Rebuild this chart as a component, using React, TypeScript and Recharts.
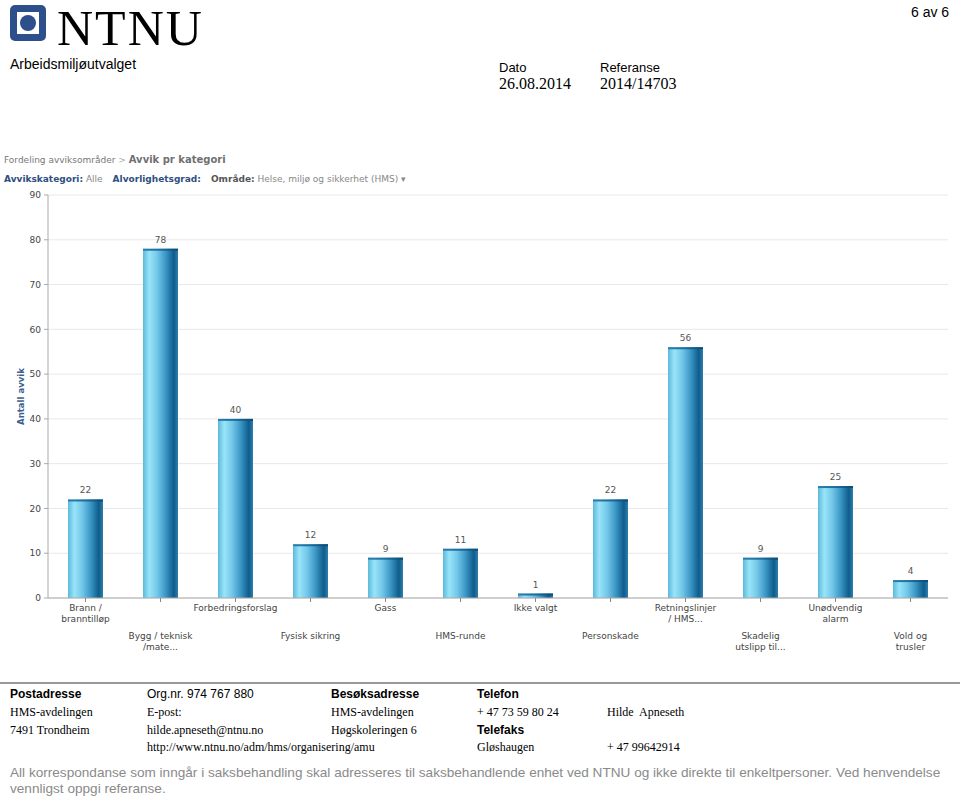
import React from "react";
import { BarChart, Bar, XAxis, YAxis, CartesianGrid, LabelList } from "recharts";

const categories = [
  "Brann /\nbranntilløp",
  "Bygg / teknisk\n/mate...",
  "Forbedringsforslag",
  "Fysisk sikring",
  "Gass",
  "HMS-runde",
  "Ikke valgt",
  "Personskade",
  "Retningslinjer\n/ HMS...",
  "Skadelig\nutslipp til...",
  "Unødvendig\nalarm",
  "Vold og\ntrusler",
];
const counts = [22, 78, 40, 12, 9, 11, 1, 22, 56, 9, 25, 4];
const yTicks = [0, 10, 20, 30, 40, 50, 60, 70, 80, 90];

const data = categories.map((c, i) => ({ name: c, value: counts[i] }));

const chartFont = "'DejaVu Sans', Verdana, sans-serif";
const condFont = "'DejaVu Sans Condensed', 'DejaVu Sans', Verdana, sans-serif";

const XTick = (props: any) => {
  const { x, y, payload, index } = props;
  const lines = String(payload.value).split("\n");
  const base = index % 2 === 0 ? 11 : 39;
  return (
    <g>
      {lines.map((l: string, i: number) => (
        <text
          key={i}
          x={x}
          y={y - 4 + base + i * 11}
          textAnchor="middle"
          fontSize={9}
          fill="#444"
          fontFamily={chartFont}
        >
          {l}
        </text>
      ))}
    </g>
  );
};

const BarShape = (props: any) => {
  const { x, y, width, height } = props;
  if (height <= 0) return null;
  return (
    <g>
      <rect x={x} y={y} width={width} height={height} fill="url(#barGrad)" />
      <rect x={x} y={y} width={width} height={Math.min(2, height)} fill="url(#capGrad)" />
    </g>
  );
};

const Logo = () => (
  <svg width={36} height={36} style={{ position: "absolute", left: 10, top: 5 }}>
    <rect x={0} y={0} width={36} height={36} rx={5} fill="#2d4f8c" />
    <rect x={7} y={7} width={22} height={22} fill="#ffffff" />
    <circle cx={18} cy={18} r={8} fill="#2d4f8c" />
  </svg>
);

const abs = (left: number, top: number, extra: React.CSSProperties = {}): React.CSSProperties => ({
  position: "absolute",
  left,
  top,
  whiteSpace: "nowrap",
  lineHeight: 1,
  ...extra,
});

const arial = "'Liberation Sans', Arial, sans-serif";
const times = "'Liberation Serif', 'Times New Roman', serif";

export default function App() {
  return (
    <div style={{ position: "relative", width: 960, height: 796, background: "#fff", overflow: "hidden" }}>
      <style>{"body{margin:0;}"}</style>
      <Logo />
      <div style={abs(57, 0, { fontFamily: times, fontSize: 50, color: "#000", letterSpacing: 2, lineHeight: 1.12 })}>NTNU</div>
      <div style={abs(911, 5, { fontFamily: arial, fontSize: 14 })}>6 av 6</div>
      <div style={abs(10, 57, { fontFamily: arial, fontSize: 14 })}>Arbeidsmiljøutvalget</div>
      <div style={abs(499, 61, { fontFamily: arial, fontSize: 13 })}>Dato</div>
      <div style={abs(600, 61, { fontFamily: arial, fontSize: 13 })}>Referanse</div>
      <div style={abs(499, 76, { fontFamily: times, fontSize: 16 })}>26.08.2014</div>
      <div style={abs(600, 76, { fontFamily: times, fontSize: 16 })}>2014/14703</div>

      <div style={abs(4, 155, { fontFamily: chartFont, fontSize: 9, color: "#777" })}>
        Fordeling avviksområder <span style={{ color: "#aaa" }}>&gt;</span>{" "}
        <span style={{ fontWeight: "bold", fontSize: 10, color: "#707070" }}>Avvik pr kategori</span>
      </div>
      <div style={abs(4, 175, { fontFamily: chartFont, fontSize: 9, color: "#888" })}>
        <span style={{ fontWeight: "bold", color: "#2f4f7f" }}>Avvikskategori:</span> Alle
        <span style={{ fontWeight: "bold", color: "#2f4f7f", marginLeft: 10 }}>Alvorlighetsgrad:</span>
        <span style={{ fontWeight: "bold", color: "#555", marginLeft: 10 }}>Område:</span> Helse, miljø og sikkerhet (HMS) ▾
      </div>

      <div style={{ position: "absolute", left: 0, top: 0 }}>
        <BarChart
          width={960}
          height={796}
          data={data}
          margin={{ top: 195, right: 12, bottom: 138, left: 8 }}
          barCategoryGap={0}
        >
          <defs>
            <linearGradient id="barGrad" x1="0" y1="0" x2="1" y2="0">
              <stop offset="0%" stopColor="#5cb9dc" />
              <stop offset="18%" stopColor="#98e4f8" />
              <stop offset="40%" stopColor="#74c8ea" />
              <stop offset="65%" stopColor="#3a96c4" />
              <stop offset="88%" stopColor="#0e5c8c" />
              <stop offset="100%" stopColor="#2f7eab" />
            </linearGradient>
            <linearGradient id="capGrad" x1="0" y1="0" x2="1" y2="0">
              <stop offset="0%" stopColor="#2f7fae" />
              <stop offset="50%" stopColor="#1d6d9c" />
              <stop offset="100%" stopColor="#0b4a73" />
            </linearGradient>
          </defs>
          <CartesianGrid vertical={false} stroke="#e8e8e8" />
          <XAxis
            dataKey="name"
            interval={0}
            height={60}
            tick={<XTick />}
            tickSize={4}
            stroke="#aaa"
            tickLine={{ stroke: "#888" }}
          />
          <YAxis
            width={40}
            domain={[0, 90]}
            ticks={yTicks}
            tickSize={4}
            tickMargin={3}
            stroke="#aaa"
            tick={{ fontSize: 9, fill: "#444", fontFamily: chartFont }}
            label={{
              value: "Antall avvik",
              angle: -90,
              position: "insideLeft",
              offset: 13,
              style: { fontSize: 9.5, fontWeight: "bold", fill: "#3d5f8f", fontFamily: condFont, textAnchor: "middle" },
            }}
          />
          <Bar dataKey="value" barSize={35} shape={<BarShape />} isAnimationActive={false}>
            <LabelList dataKey="value" position="top" offset={6} fontSize={9} fill="#555" fontFamily={chartFont} />
          </Bar>
        </BarChart>
      </div>

      <div style={{ position: "absolute", left: 0, top: 682, width: 960, height: 2, background: "#999" }} />
      <div style={abs(10, 688, { fontFamily: arial, fontSize: 12, fontWeight: "bold" })}>Postadresse</div>
      <div style={abs(147, 688, { fontFamily: arial, fontSize: 12 })}>Org.nr. 974 767 880</div>
      <div style={abs(331, 688, { fontFamily: arial, fontSize: 12, fontWeight: "bold" })}>Besøksadresse</div>
      <div style={abs(477, 688, { fontFamily: arial, fontSize: 12, fontWeight: "bold" })}>Telefon</div>

      <div style={abs(10, 706, { fontFamily: times, fontSize: 12 })}>HMS-avdelingen</div>
      <div style={abs(147, 706, { fontFamily: times, fontSize: 12 })}>E-post:</div>
      <div style={abs(331, 706, { fontFamily: times, fontSize: 12 })}>HMS-avdelingen</div>
      <div style={abs(477, 706, { fontFamily: times, fontSize: 12 })}>+ 47 73 59 80 24</div>
      <div style={abs(607, 706, { fontFamily: times, fontSize: 12 })}>Hilde&nbsp; Apneseth</div>

      <div style={abs(10, 724, { fontFamily: times, fontSize: 12 })}>7491 Trondheim</div>
      <div style={abs(147, 724, { fontFamily: times, fontSize: 12 })}>hilde.apneseth@ntnu.no</div>
      <div style={abs(331, 724, { fontFamily: times, fontSize: 12 })}>Høgskoleringen 6</div>
      <div style={abs(477, 724, { fontFamily: arial, fontSize: 12, fontWeight: "bold" })}>Telefaks</div>

      <div style={abs(147, 741, { fontFamily: times, fontSize: 12 })}>http://www.ntnu.no/adm/hms/organisering/amu</div>
      <div style={abs(477, 741, { fontFamily: times, fontSize: 12 })}>Gløshaugen</div>
      <div style={abs(607, 741, { fontFamily: times, fontSize: 12 })}>+ 47 99642914</div>

      <div style={abs(10, 766, { fontFamily: arial, fontSize: 13.6, color: "#8a8a8a" })}>
        All korrespondanse som inngår i saksbehandling skal adresseres til saksbehandlende enhet ved NTNU og ikke direkte til enkeltpersoner. Ved henvendelse
      </div>
      <div style={abs(10, 782, { fontFamily: arial, fontSize: 13.6, color: "#8a8a8a" })}>vennligst oppgi referanse.</div>
    </div>
  );
}
